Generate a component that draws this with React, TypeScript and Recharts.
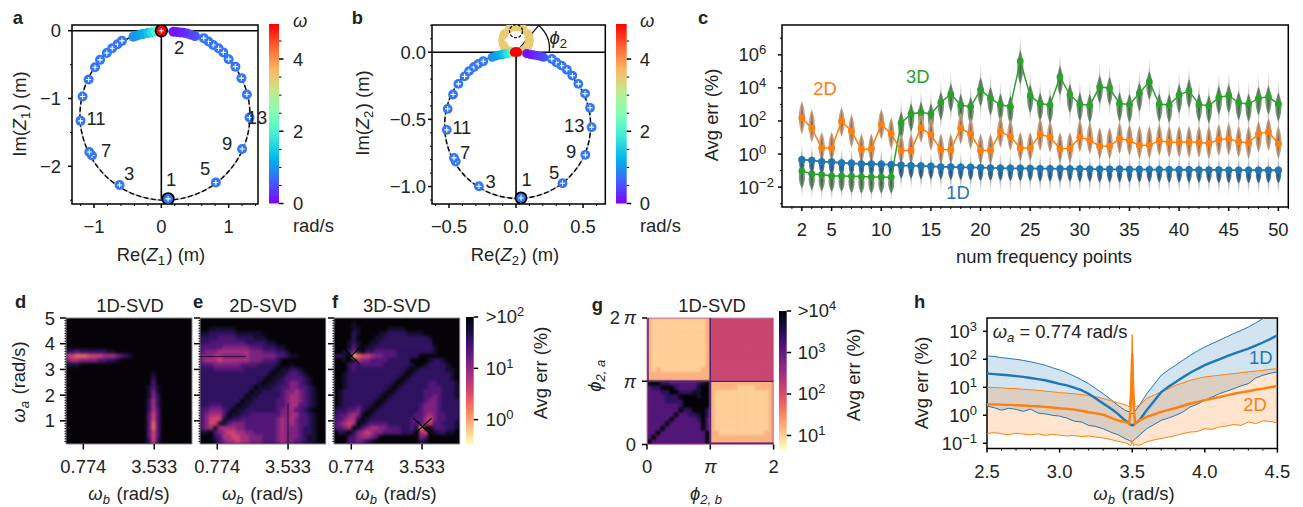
import React from 'react';
import { ComposedChart, XAxis, YAxis, Scatter, Line, Area, Bar, ReferenceLine, ReferenceArea, ReferenceDot } from 'recharts';

const FONT = '"Liberation Sans", Arial, sans-serif';
const INK = '#222';
const FS = 18.4;
const BLUE = '#1f77b4', ORANGE = '#ff7f0e', GREEN = '#2ca02c';

// ---------- panel a / b : [re, im, omega]
const zoneA: number[][] = [
  [0.1, -2.48, 0.77], [0.81, -2.24, 0.77], [1.2, -1.745, 0.77], [1.31, -1.28, 0.77], [1.27, -0.94, 0.77], [1.19, -0.7, 0.77],
  [1.1, -0.53, 0.77], [1.0, -0.42, 0.77], [0.92, -0.32, 0.77], [0.85, -0.26, 0.77], [0.77, -0.21, 0.77], [0.7, -0.16, 0.77], [0.63, -0.11, 0.77],
  [-0.62, -2.275, 0.77], [-1.03, -1.84, 0.77], [-1.07, -1.79, 0.77], [-1.2, -1.33, 0.77], [-1.17, -0.97, 0.77], [-1.08, -0.72, 0.77],
  [-0.985, -0.54, 0.77], [-0.91, -0.43, 0.77], [-0.81, -0.33, 0.77], [-0.73, -0.26, 0.77], [-0.65, -0.2, 0.77], [-0.585, -0.15, 0.77],
];
const trailA: number[][] = [
  [0.5, -0.08, 0.55], [0.44, -0.06, 0.45], [0.38, -0.04, 0.4], [0.33, -0.03, 0.3], [0.28, -0.025, 0.25], [0.23, -0.018, 0.2], [0.18, -0.015, 0.12],
  [-0.415, -0.09, 0.95], [-0.36, -0.07, 1.0], [-0.31, -0.055, 1.1], [-0.27, -0.05, 1.2], [-0.2, -0.035, 1.4], [-0.14, -0.025, 1.7], [-0.08, -0.01, 2.0],
];
const zoneB: number[][] = [
  [0.037, -1.085, 0.77], [0.347, -0.975, 0.77], [0.517, -0.764, 0.77], [0.564, -0.558, 0.77], [0.552, -0.414, 0.77], [0.515, -0.308, 0.77], [0.465, -0.236, 0.77],
  [0.42, -0.174, 0.77], [0.379, -0.13, 0.77], [0.34, -0.1, 0.77], [0.3, -0.075, 0.77], [0.267, -0.05, 0.77],
  [-0.277, -0.998, 0.77], [-0.45, -0.814, 0.77], [-0.463, -0.787, 0.77], [-0.517, -0.578, 0.77], [-0.51, -0.422, 0.77], [-0.47, -0.315, 0.77], [-0.43, -0.236, 0.77],
  [-0.384, -0.18, 0.77], [-0.351, -0.141, 0.77], [-0.314, -0.11, 0.77], [-0.282, -0.087, 0.77], [-0.245, -0.067, 0.77],
];
const trailB: number[][] = [
  [0.205, -0.037, 0.55], [0.18, -0.03, 0.45], [0.156, -0.025, 0.35], [0.13, -0.02, 0.3], [0.106, -0.017, 0.2], [0.08, -0.01, 0.12],
  [-0.178, -0.037, 0.95], [-0.15, -0.028, 1.05], [-0.116, -0.02, 1.2], [-0.09, -0.015, 1.4], [-0.067, -0.012, 1.7], [-0.035, -0.005, 2.1],
];
const ringB: number[][] = [
  [0.1, 0.087, 3.53], [0.094, 0.115, 3.53], [0.087, 0.137, 3.53], [0.05, 0.174, 3.53], [0.0, 0.187, 3.53], [-0.05, 0.174, 3.53], [-0.087, 0.137, 3.53], [-0.094, 0.115, 3.53],
  [-0.1, 0.087, 3.53], [-0.094, 0.06, 3.53], [-0.087, 0.037, 3.53], [-0.05, 0.01, 3.53], [0.05, 0.01, 3.53], [0.087, 0.037, 3.53], [0.094, 0.06, 3.53],
];
const ringPlusB: number[][] = [[-0.07, 0.09, 3.53], [-0.05, 0.11, 3.53], [-0.03, 0.13, 3.53], [0.0, 0.14, 3.53], [0.03, 0.135, 3.53], [0.05, 0.12, 3.53]];
const centreA: number[][] = [[0, 0, 5]];
const centreB: number[][] = [[0.012, 0, 5], [-0.012, 0, 5], [0, 0.005, 5]];

// ---------- panel c (log10 of the error)
const numFreq = [2,3,4,5,6,7,8,9,10,11,12,13,14,15,16,17,18,19,20,21,22,23,24,25,26,27,28,29,30,31,32,33,34,35,36,37,38,39,40,41,42,43,44,45,46,47,48,49,50];
const err2D = [2.18,1.56,.36,.36,1.98,1.38,.28,.32,1.78,1.22,.22,.22,1.58,1.16,.26,.26,1.56,1.22,.22,.22,1.36,1.06,.36,.36,1.2,1.02,.32,.34,1.02,.86,.46,.48,.92,.82,.52,.54,.8,.72,.72,.74,.7,.64,.88,.92,.74,.68,1.22,1.34,.62];
const top2D = [3.4,2.9,1.5,1.5,3.0,2.6,1.4,1.4,2.9,2.4,1.4,1.4,2.7,2.4,1.4,1.4,2.7,2.4,1.4,1.4,2.5,2.3,1.5,1.5,2.4,2.2,1.5,1.5,2.3,2.1,1.8,1.8,2.1,2.0,1.9,1.9,2.0,1.9,1.9,1.9,1.9,1.9,2.0,2.1,1.9,1.9,2.2,2.4,1.9];
const bot2D = [1.0,.5,-.6,-.6,.9,.2,-.7,-.7,.7,.1,-.8,-.8,.5,0,-.8,-.8,.4,.1,-.8,-.8,.2,0,-.6,-.6,0,-.1,-.7,-.7,-.1,-.2,-.5,-.5,-.2,-.3,-.5,-.5,-.3,-.4,-.4,-.4,-.4,-.5,-.3,-.3,-.4,-.5,-.1,0,-.5];
const err3D = [-1.02,-1.2,-1.24,-1.32,-1.32,-1.34,-1.36,-1.38,-1.38,-1.4,1.88,2.42,2.52,2.42,3.12,3.62,2.96,2.86,3.88,3.38,2.98,2.86,5.62,3.52,3.06,2.96,4.66,3.58,3.02,2.94,4.06,3.98,3.06,3.0,3.68,4.38,3.02,2.96,3.56,3.82,3.0,2.92,3.42,3.54,3.1,3.02,3.38,3.46,3.02];
const top3D = [-.1,-.3,-.3,-.4,-.4,-.4,-.5,-.5,-.5,-.5,3.4,3.9,4.0,3.9,4.6,5.1,4.5,4.3,5.5,4.9,4.5,4.4,7.3,5.1,4.6,4.4,6.2,5.1,4.6,4.5,5.6,5.5,4.6,4.5,5.2,5.9,4.5,4.5,5.1,5.4,4.5,4.4,5.0,5.1,4.6,4.5,4.9,5.0,4.6];
const bot3D = [-2.7,-2.8,-2.9,-2.9,-2.9,-3.0,-3.0,-3.0,-3.0,-3.0,0,.5,.6,.5,1.2,1.7,1.0,.9,2.0,1.5,1.1,.9,3.2,1.6,1.1,1.0,2.7,1.6,1.1,1.0,2.2,2.1,1.1,1.0,1.7,2.4,1.1,1.0,1.6,1.9,1.1,1.0,1.5,1.6,1.2,1.1,1.5,1.5,1.1];
const err1D = [-.34,-.38,-.46,-.48,-.54,-.56,-.6,-.6,-.62,-.64,-.68,-.7,-.72,-.74,-.78,-.78,-.8,-.8,-.82,-.84,-.85,-.86,-.86,-.87,-.88,-.88,-.89,-.9,-.9,-.91,-.91,-.92,-.92,-.93,-.93,-.94,-.94,-.94,-.95,-.95,-.96,-.96,-.96,-.97,-.97,-.97,-.98,-.98,-.98];
const top1D = [.7,.65,.6,.55,.5,.5,.45,.45,.45,.4,.35,.35,.3,.3,.25,.25,.25,.2,.2,.2,.2,.2,.15,.15,.15,.15,.15,.15,.1,.1,.1,.1,.1,.1,.1,.1,.1,.05,.05,.05,.05,.05,.05,.05,.05,.05,.05,.05,.05];
const bot1D = [-1.9,-1.95,-2.0,-2.05,-2.1,-2.1,-2.15,-2.15,-2.2,-2.2,-2.25,-2.25,-2.3,-2.3,-2.3,-2.35,-2.35,-2.35,-2.4,-2.4,-2.4,-2.4,-2.4,-2.4,-2.45,-2.45,-2.45,-2.45,-2.45,-2.45,-2.5,-2.5,-2.5,-2.5,-2.5,-2.5,-2.5,-2.5,-2.5,-2.5,-2.5,-2.5,-2.55,-2.55,-2.55,-2.55,-2.55,-2.55,-2.55];
const tableC = numFreq.map((x, i) => ({ x, y: err2D[i], o: err2D[i], g: err3D[i], b: err1D[i], oR: [bot2D[i], top2D[i]], gR: [bot3D[i], top3D[i]], bR: [bot1D[i], top1D[i]] }));
const dotsOf = (vals: number[]) => numFreq.map((x, i) => ({ x, y: vals[i] }));

// ---------- panel h (log10 of the error)
const omegaB = [2.5,2.55,2.6,2.65,2.7,2.75,2.8,2.85,2.9,2.95,3.0,3.05,3.1,3.15,3.2,3.25,3.3,3.35,3.4,3.45,3.48,3.49,3.5,3.51,3.52,3.55,3.6,3.65,3.7,3.75,3.8,3.85,3.9,3.95,4.0,4.05,4.1,4.15,4.2,4.25,4.3,4.35,4.4,4.45,4.5];
const hBlue = [1.49,1.47,1.45,1.43,1.4,1.37,1.33,1.29,1.25,1.19,1.12,1.07,.99,.9,.77,.6,.42,.25,.06,-.18,-.3,-.34,-.36,-.34,-.3,-.18,.18,.5,.83,1.02,1.19,1.36,1.52,1.66,1.79,1.9,2.0,2.1,2.2,2.29,2.38,2.49,2.6,2.72,2.86];
const hBlueUp = [2.12,2.1,2.06,2.03,2.0,1.96,1.91,1.85,1.79,1.7,1.62,1.52,1.4,1.27,1.13,.95,.77,.58,.36,.18,.12,.08,.06,.1,.15,.36,.77,1.1,1.43,1.62,1.79,1.97,2.14,2.3,2.44,2.56,2.68,2.8,2.92,3.03,3.15,3.3,3.45,3.65,3.93];
const hBlueLo = [.33,.27,.18,.25,.21,.14,.22,.08,.05,0,-.03,-.1,-.21,-.24,-.36,-.4,-.48,-.6,-.69,-.83,-.9,-.93,-.95,-.9,-.85,-.71,-.48,-.33,-.18,-.1,0,.12,.3,.4,.54,.65,.77,.86,.95,1.05,1.13,1.33,1.43,1.5,1.55];
const hOrange = [.39,.39,.38,.37,.36,.35,.33,.32,.3,.28,.25,.23,.2,.16,.11,.07,.02,-.08,-.18,-.24,-.3,.3,2.2,.3,-.3,-.18,-.06,.03,.12,.19,.26,.34,.42,.48,.54,.6,.65,.71,.77,.82,.86,.91,.95,1.0,1.05];
const hOrangeUp = [1.0,.99,.98,.96,.95,.93,.91,.89,.86,.84,.81,.79,.77,.74,.71,.66,.6,.53,.45,.38,.3,.9,2.88,.9,.3,.36,.6,.72,.83,.95,1.07,1.16,1.25,1.31,1.37,1.4,1.43,1.46,1.49,1.52,1.55,1.58,1.6,1.64,1.67];
const hOrangeLo = [-.65,-.62,-.66,-.7,-.64,-.67,-.7,-.66,-.72,-.68,-.71,-.74,-.72,-.76,-.74,-.78,-.81,-.86,-.93,-.98,-1.05,-1.08,-.9,-1.1,-1.05,-1.07,-.95,-.88,-.83,-.78,-.72,-.65,-.6,-.58,-.48,-.5,-.42,-.38,-.33,-.36,-.24,-.3,-.2,-.22,-.27];
const tableH = omegaB.map((x, i) => ({ x, y: hBlue[i], b: hBlue[i], bu: hBlueUp[i], bl: hBlueLo[i], o: hOrange[i], ou: hOrangeUp[i], ol: hOrangeLo[i], bR: [hBlueLo[i], hBlueUp[i]], oR: [hOrangeLo[i], hOrangeUp[i]] }));

// ---------- heat maps : one digit per cell, 0 dark .. 9 pale (see RAMP)
const heat1D = [
'0000000000000000000000000000','0000000000000000000000000000','0000000000000000000000000000','0000000000000000000000000000',
'0000000000000000000000000000','0000000000000000000000000000','0000000000000000000000000000',
'2232222221100000000000000000','6677766655543210000000000000','4554444332210000000000000000',
'1110000000000000000000000000','0000000000000000000000000000',
'0000000000000000000100000000','0000000000000000000200000000','0000000000000000000300000000','0000000000000000001310000000',
'0000000000000000001410000000','0000000000000000001420000000','0000000000000000002520000000','0000000000000000002520000000',
'0000000000000000002530000000','0000000000000000003630000000','0000000000000000003630000000','0000000000000000003730000000',
'0000000000000000003730000000','0000000000000000003630000000','0000000000000000003630000000','0000000000000000002620000000',
];
const heat2D = [
'0000000000000000000000000000','0000000000000000000000000000','0011111100000000000000000000','1122222211111100000000000000',
'2222333322221110000000000000','2233333333222221100000000000','3333344444433322211000000000','3444555555544433322100000000',
'4445544444544444433211000000','4555655555544433320000000000','3334444443333222210010000000','2223333333222222101122100000',
'2222222222222221011233210000','2222222222222210112333321000','2222222222222101122344321000','2222222222220111223344332100',
'2222222222201122223445432100','2222222222011222223455432100','2222222220112222233455432100','2233322201122222233455332100',
'3344432011222222234453321000','3455530112233333334455332100','3466611223333333345454332100','3466113444333333345454332100',
'3451555544333333345444322100','1103456655443333345444322100','0002355665544433345444321100','0001345565544433345443321100',
];
const heat3D = [
'0000000000000000000000000000','0000100000000000000000000000','0000110000001111000000000000','0000210000112222111100000000',
'0000200001122222222221000000','0001210011222222222222000000','0001310112222222222222100000','0012410223333322222222100000',
'2210876654433322222000000000','0010154433332222200001221000','0002323333322222210012222100','0002322222222222101222222110',
'0012222222222221012222222210','0012222222222210122222222210','0012222222222101222223322221','0012222222221012222223332221',
'0122222222210122222233332221','0122222222101222222233432221','0122222221012222222234432222','0122232210122222222344432222',
'2223342101222222222344432222','2334541012222222223345433222','3345520122222222233356433222','3456501233332222233356332221',
'3345013455443332231800333221','0210245654433332220560122110','0002345543000000000430000000','0003343210000000000210000000',
];
const heatPhase = [
'89999999999998bbbbbbbbbbbbbb','89999999999998bbbbbbbbbbbbbb','89999999999998bbbbbbbbbbbbbb','89999999999998bbbbbbbbbbbbbb',
'89999999999998bbbbbbbbbbbbbb','89999999999998bbbbbbbbbbbbbb','89999999999998bbbbbbbbbbbbbb','89999999999998bbbbbbbbbbbbbb',
'89999999999998bbbbbbbbbbbbbb','89999999999998bbbbbbbbbbbbbb','89999999999998bbbbbbbbbbbbbb','89899999999988bbbbbbbbbbbbbb',
'88888888888888bbbbbbbbbbbbbb','88888888888888bbbbbbbbbbbbbb',
'0002233333321088888888888888','3220002333310088888899998888','3332200222110089999999999998','3333222000010089999999999998',
'3333222200000089999999999998','3333333200000089999999999998','3333333022000289999999999998','3333330332210289999999999998',
'3333303333320389999999999998','3333033333330389999999999998','3330333333330389999999999998','3303333333333088999999999988',
'3033333333333088888888888888','0333333333333088888888888888',
];
const RAMP: Record<string, string> = { '0': '#050308', '1': '#160e30', '2': '#2f1260', '3': '#521678', '4': '#7c2380', '5': '#a8307e', '6': '#d24470', '7': '#ee6a62', '8': '#fbb280', '9': '#fdd098', a: '#fcfdbf', b: '#c9466f' };

const cellsOf = (rows: string[], lo: number, hi: number) => {
  const n = rows.length, step = (hi - lo) / n, out: any[] = [];
  rows.forEach((row, r) => { for (let c = 0; c < n; c++) out.push({ x: lo + (c + 0.5) * step, y: hi - (r + 0.5) * step, l: row[c] || '0' }); });
  return out;
};

// ---------- axis ticks
type TickDef = [number, any];
const logLabel = (e: string) => ({ b: '10', s: e });
const om = [[0.774, '0.774'], [3.533, '3.533']] as TickDef[];
const tenths = [.2,.3,.4,.5,.6,.7,.8,.9,1.1,1.2,1.3,1.4,1.5,1.6,1.7,1.8,1.9,2.1,2.2,2.3,2.4,2.5,2.6,2.7,2.8,2.9,3.1,3.2,3.3,3.4,3.5,3.6,3.7,3.8,3.9,4.1,4.2,4.3,4.4,4.5,4.6,4.7,4.8,4.9];

const rainbow = (w: number) => {
  const t = Math.min(1, w / 5);
  const ch = (v: number) => Math.round(255 * Math.min(1, Math.max(0, v)));
  return `rgb(${ch(Math.abs(2 * t - 0.5))},${ch(Math.sin(Math.PI * t))},${ch(Math.cos((Math.PI * t) / 2))})`;
};
const asPts = (a: number[][]) => a.map(([x, y, w]) => ({ x, y, w }));

const tickOf = (side: 'x' | 'l' | 'r', defs: Map<number, any>, o: any) => (p: any) => {
  const v = p.payload.value, major = defs.has(v), lab = defs.get(v);
  const len = major ? o.major : o.minor, sw = major ? 1.5 : 1;
  const isSup = lab && typeof lab === 'object' && !React.isValidElement(lab);
  const txt = (x: number, y: number, anchor: string) => lab == null || lab === '' ? null : (
    <text x={x} y={y} textAnchor={anchor} fontFamily={FONT} fontSize={FS} fill={INK}>
      {isSup ? <>{lab.pre || ''}{lab.b}<tspan dy={-7} fontSize={13}>{lab.s}</tspan></> : lab}
    </text>
  );
  if (side === 'x') return <g><line x1={p.x} x2={p.x} y1={p.y} y2={p.y + len} stroke={o.color || '#000'} strokeWidth={sw} />{txt(p.x, p.y + 29, 'middle')}</g>;
  if (side === 'l') return <g><line x1={p.x} x2={p.x - len} y1={p.y} y2={p.y} stroke={o.color || '#000'} strokeWidth={sw} />{o.startAt ? txt(p.x - o.startAt, p.y + 6.5, 'start') : txt(p.x - o.gap, p.y + 6.5, 'end')}</g>;
  return <g><line x1={p.x} x2={p.x + len} y1={p.y} y2={p.y} stroke="#000" strokeWidth={sw} />{txt(p.x + o.gap, p.y + 6.5, 'start')}</g>;
};

const ML = 70, MT = 16, MR = 30, MB = 40, CM = 16;
function Panel({ box, xd, yd, xMajor, xMinor = [], yMajor, yMinor = [], yOpt, xOpt, frame = '#000', frameW = 1.5, data, children }: any) {
  const [l, t, r, b] = box;
  const xs = new Map<number, any>(xMajor), ys = new Map<number, any>(yMajor);
  return (
    <div style={{ position: 'absolute', left: l - ML, top: t - MT }}>
      <ComposedChart width={r - l + ML + MR} height={b - t + MT + MB} data={data} margin={{ top: MT, right: MR, bottom: 0, left: 0 }}>
        <XAxis dataKey="x" type="number" domain={xd} allowDataOverflow ticks={[...xs.keys(), ...xMinor]} interval={0} height={MB} tickSize={0} tickMargin={0} axisLine={false} tickLine={false}
          tick={tickOf('x', xs, { major: 4, minor: 2, ...xOpt })} />
        <YAxis dataKey="y" type="number" domain={yd} allowDataOverflow ticks={[...ys.keys(), ...yMinor]} interval={0} width={ML} tickSize={0} tickMargin={0} axisLine={false} tickLine={false}
          tick={tickOf('l', ys, { major: 4, minor: 2, gap: 11, ...yOpt })} />
        {children}
        <ReferenceArea x1={xd[0]} x2={xd[1]} y1={yd[0]} y2={yd[1]} fill="none" fillOpacity={0} stroke={frame} strokeWidth={frameW} ifOverflow="visible" />
      </ComposedChart>
    </div>
  );
}

// a chart with hidden axes, laid out on the same plot box as a Panel, drawn under it
function Under({ box, yd, data, children, extraAxes }: any) {
  const [l, t, r, b] = box;
  return (
    <div style={{ position: 'absolute', left: l, top: t }}>
      <ComposedChart width={r - l} height={b - t} data={data} margin={{ top: 0, right: 0, bottom: 0, left: 0 }}>
        {extraAxes}
        <YAxis hide dataKey="y" type="number" domain={yd} allowDataOverflow />
        {children}
      </ComposedChart>
    </div>
  );
}

function ColorBar({ box, domain, grad, major, minor = [], gap }: any) {
  const [l, t, r, b] = box;
  const ys = new Map<number, any>(major);
  return (
    <div style={{ position: 'absolute', left: l, top: t - CM }}>
      <ComposedChart width={r - l + 80} height={b - t + 2 * CM} data={[{ x: 0, y: domain[0] }, { x: 1, y: domain[1] }]} margin={{ top: CM, right: 0, bottom: CM, left: 0 }}>
        <XAxis hide dataKey="x" type="number" domain={[0, 1]} />
        <YAxis orientation="right" dataKey="y" type="number" domain={domain} allowDataOverflow ticks={[...ys.keys(), ...minor]} interval={0} width={80} tickSize={0} tickMargin={0} axisLine={false} tickLine={false}
          tick={tickOf('r', ys, { major: 4.5, minor: 2.5, gap })} />
        <ReferenceArea x1={0} x2={1} y1={domain[0]} y2={domain[1]} fill={`url(#${grad})`} fillOpacity={1} stroke="none" ifOverflow="visible" />
      </ComposedChart>
    </div>
  );
}

function Heat({ box, rows, lo, hi, bg, blur }: any) {
  const [l, t, r, b] = box;
  const w = r - l, h = b - t, cw = w / rows.length + 0.6, ch = h / rows.length + 0.6;
  return (
    <div style={{ position: 'absolute', left: l, top: t, width: w, height: h, overflow: 'hidden', background: bg }}>
      <div style={{ filter: `blur(${blur}px)`, width: w, height: h }}>
        <ComposedChart width={w} height={h} margin={{ top: 0, right: 0, bottom: 0, left: 0 }}>
          <XAxis hide dataKey="x" type="number" domain={[lo, hi]} />
          <YAxis hide dataKey="y" type="number" domain={[lo, hi]} />
          <Scatter data={cellsOf(rows, lo, hi)} isAnimationActive={false} shape={(p: any) => <rect x={p.cx - cw / 2} y={p.cy - ch / 2} width={cw} height={ch} fill={RAMP[p.payload.l]} />} />
        </ComposedChart>
      </div>
    </div>
  );
}

const Marker = (ring: boolean, plus: boolean, r: number) => (p: any) => (
  <g>
    <circle cx={p.cx} cy={p.cy} r={r} fill={rainbow(p.payload.w)} stroke={ring ? '#000' : 'none'} strokeWidth={ring ? 1.8 : 0} />
    {plus && <path d={`M${p.cx - 2.6},${p.cy}H${p.cx + 2.6}M${p.cx},${p.cy - 2.6}V${p.cy + 2.6}`} stroke="#fff" strokeWidth={1.1} />}
  </g>
);
const TipOnly = (plus: boolean) => (p: any) => plus ? <path d={`M${p.cx - 2.5},${p.cy}H${p.cx + 2.5}M${p.cx},${p.cy - 2.5}V${p.cy + 2.5}`} stroke="#fff" strokeWidth={1.1} /> : <g />;
const Disc = (fill: string, r: number) => (p: any) => <circle cx={p.cx} cy={p.cy} r={r} fill={fill} />;

const Violin = (fill: string, frac: number, bw: number) => (p: any) => {
  const cx = p.x + p.width / 2, top = Math.min(p.y, p.y + p.height), H = Math.abs(p.height), bot = top + H;
  const a = top + H * frac, c = bot - H * frac, m = (a + c) / 2;
  return (
    <g>
      <path d={`M${cx},${a}C${cx + bw * 1.33},${m - (c - a) * 0.2} ${cx + bw * 1.33},${m + (c - a) * 0.2} ${cx},${c}C${cx - bw * 1.33},${m + (c - a) * 0.2} ${cx - bw * 1.33},${m - (c - a) * 0.2} ${cx},${a}Z`} fill={fill} />
      <path d={`M${cx},${top}Q${cx + 2.2},${m} ${cx},${bot}Q${cx - 2.2},${m} ${cx},${top}Z`} fill="url(#tail)" />
    </g>
  );
};

function T({ x, y, a = 'start', size = FS, color = INK, weight, rot, children }: any) {
  return <text x={x} y={y} textAnchor={a} fontFamily={FONT} fontSize={size} fill={color} fontWeight={weight} transform={rot ? `rotate(${rot} ${x} ${y})` : undefined}>{children}</text>;
}
const Sub = ({ children }: any) => <><tspan dy={4} fontSize={13}>{children}</tspan><tspan dy={-4} fontSize={FS}>{'\u200a'}</tspan></>;
const I = ({ children }: any) => <tspan fontStyle="italic">{children}</tspan>;

const boxA = [72, 24.5, 258, 203.5], boxB = [431.7, 24.5, 605, 203.5], boxC = [781.7, 24.5, 1288, 206.5];
const boxD = [66, 318, 192, 444], boxE = [200, 318, 325.7, 444], boxF = [334.3, 318, 460, 444], boxG = [646.7, 317.5, 773.3, 444], boxH = [987.3, 317.7, 1277.7, 448.3];

const yOmega: TickDef[] = [[5, '5'], [4, '4'], [3, '3'], [2, '2'], [1, '1']];
const yOmegaBare: TickDef[] = [[5, ''], [4, ''], [3, ''], [2, ''], [1, '']];
const cbOmega: TickDef[] = [[0, '0'], [2, '2'], [4, '4']];
const axisC = (id: string) => <XAxis key={id} xAxisId={id} hide dataKey="x" type="number" domain={[0, 51]} allowDataOverflow />;

export default function App() {
  return (
    <div style={{ position: 'absolute', left: 0, top: 0, width: 1303, height: 507, background: '#fff', overflow: 'hidden', fontFamily: FONT }}>
      <svg width={0} height={0} style={{ position: 'absolute' }}>
        <defs>
          <linearGradient id="rainbowBar" x1="0" y1="1" x2="0" y2="0">
            {['#8000ff', '#4062fa', '#00b5eb', '#40ecd4', '#80ffb4', '#c0eb8d', '#ffb462', '#ff6232', '#ff0000'].map((c, i) => <stop key={c} offset={i / 8} stopColor={c} />)}
          </linearGradient>
          <linearGradient id="magmaBar" x1="0" y1="1" x2="0" y2="0">
            {['#fcfdbf', '#fecf92', '#fe9f6d', '#f7705c', '#de4968', '#b73779', '#8c2981', '#641a80', '#3b0f70', '#140e36', '#000004'].map((c, i) => <stop key={c} offset={i / 10} stopColor={c} />)}
          </linearGradient>
          <linearGradient id="tail" x1="0" y1="0" x2="0" y2="1">
            <stop offset="0" stopColor="#555" stopOpacity={0.03} />
            <stop offset="0.5" stopColor="#333" stopOpacity={0.6} />
            <stop offset="1" stopColor="#555" stopOpacity={0.03} />
          </linearGradient>
        </defs>
      </svg>

      {/* a */}
      <Panel box={boxA} xd={[-1.327, 1.436]} yd={[-2.556, 0.084]} data={[]}
        xMajor={[[-1, '\u22121'], [0, '0'], [1, '1']]} xMinor={[-1.2, -.8, -.6, -.4, -.2, .2, .4, .6, .8, 1.2, 1.4]}
        yMajor={[[0, '0'], [-1, '\u22121'], [-2, '\u22122']]} yMinor={[-.5, -1.5, -2.5]}>
        <ReferenceDot x={0.054} y={-1.245} r={85} fill="none" stroke="#bbb" strokeWidth={1.6} ifOverflow="visible" />
        <ReferenceDot x={0.054} y={-1.245} r={85} fill="none" stroke="#000" strokeWidth={1.4} strokeDasharray="5 2.5" ifOverflow="visible" />
        <ReferenceLine y={0} stroke="#000" strokeWidth={1.6} ifOverflow="visible" />
        <ReferenceLine segment={[{ x: 0, y: 0 }, { x: 0, y: -2.48 }]} stroke="#000" strokeWidth={1.6} ifOverflow="visible" />
        <Scatter data={asPts(trailA)} isAnimationActive={false} shape={Marker(false, false, 5)} />
        <Scatter data={asPts(zoneA.slice(1))} isAnimationActive={false} shape={Marker(false, true, 5)} />
        <Scatter data={asPts(zoneA.slice(0, 1))} isAnimationActive={false} shape={Marker(true, true, 5.8)} />
        <Scatter data={asPts(centreA)} isAnimationActive={false} shape={Marker(true, true, 5.8)} />
      </Panel>
      <ColorBar box={[269, 24, 279, 203.5]} domain={[0, 4.97]} grad="rainbowBar" major={cbOmega} minor={[.5, 1, 1.5, 2.5, 3, 3.5, 4.5]} gap={14} />

      {/* b */}
      <Panel box={boxB} xd={[-0.627, 0.666]} yd={[-1.13, 0.2025]} data={[]} yOpt={{ gap: 6 }}
        xMajor={[[-0.5, '\u22120.5'], [0, '0.0'], [0.5, '0.5']]} xMinor={[-.6, -.4, -.3, -.2, -.1, .1, .2, .3, .4, .6]}
        yMajor={[[0, '0.0'], [-0.5, '\u22120.5'], [-1, '\u22121.0']]} yMinor={[.2, .1, -.1, -.2, -.3, -.4, -.6, -.7, -.8, -.9, -1.1]}>
        <ReferenceDot x={0.012} y={-0.545} r={73} fill="none" stroke="#bbb" strokeWidth={1.6} ifOverflow="visible" />
        <ReferenceDot x={0.012} y={-0.545} r={73} fill="none" stroke="#000" strokeWidth={1.4} strokeDasharray="5 2.5" ifOverflow="visible" />
        <ReferenceLine y={0} stroke="#000" strokeWidth={1.6} ifOverflow="visible" />
        <ReferenceLine segment={[{ x: 0, y: 0 }, { x: 0, y: -1.085 }]} stroke="#000" strokeWidth={1.6} ifOverflow="visible" />
        <ReferenceLine segment={[{ x: 0, y: 0 }, { x: 0.17, y: 0.2 }]} stroke="#000" strokeWidth={1.2} ifOverflow="visible" />
        <Scatter data={asPts(ringB)} isAnimationActive={false} shape={Marker(false, false, 4.6)} />
        <Scatter data={asPts(ringPlusB)} isAnimationActive={false} shape={TipOnly(true)} />
        <ReferenceDot x={0} y={0.156} r={6.5} fill="none" stroke="#000" strokeWidth={1.2} strokeDasharray="3 1.5" ifOverflow="visible" />
        <Scatter data={asPts(trailB)} isAnimationActive={false} shape={Marker(false, false, 4.6)} />
        <Scatter data={asPts(zoneB.slice(1))} isAnimationActive={false} shape={Marker(false, true, 4.9)} />
        <Scatter data={asPts(zoneB.slice(0, 1))} isAnimationActive={false} shape={Marker(true, true, 5.6)} />
        <Scatter data={asPts(centreB)} isAnimationActive={false} shape={Marker(false, false, 4.6)} />
      </Panel>
      <ColorBar box={[616, 24, 626.7, 203.5]} domain={[0, 4.97]} grad="rainbowBar" major={cbOmega} minor={[.5, 1, 1.5, 2.5, 3, 3.5, 4.5]} gap={13} />

      {/* c : violins under, lines and axes over */}
      <Under box={boxC} yd={[-3.2, 7.8]} data={tableC} extraAxes={[axisC('g'), axisC('o'), axisC('b')]}>
        <Bar xAxisId="g" dataKey="gR" barSize={6} isAnimationActive={false} shape={Violin('#6f9c72', 0.25, 3.1)} />
        <Bar xAxisId="o" dataKey="oR" barSize={6} isAnimationActive={false} shape={Violin('#cfa17f', 0.08, 3.1)} />
        <Bar xAxisId="b" dataKey="bR" barSize={6} isAnimationActive={false} shape={Violin('#3f78ab', 0.3, 2.7)} />
      </Under>
      <Panel box={boxC} xd={[0, 51]} yd={[-3.2, 7.8]} data={tableC} yOpt={{ startAt: 43.4 }}
        xMajor={[[2, '2'], [5, '5'], [10, '10'], [15, '15'], [20, '20'], [25, '25'], [30, '30'], [35, '35'], [40, '40'], [45, '45'], [50, '50']]}
        xMinor={numFreq.filter(v => ![2, 5, 10, 15, 20, 25, 30, 35, 40, 45, 50].includes(v)).concat([1, 51])}
        yMajor={[[6, logLabel('6')], [4, logLabel('4')], [2, logLabel('2')], [0, logLabel('0')], [-2, logLabel('\u22122')]]} yMinor={[7, 5, 3, 1, -1, -3]}>
        <Line dataKey="g" stroke={GREEN} strokeWidth={1.5} dot={false} isAnimationActive={false} />
        <Line dataKey="o" stroke={ORANGE} strokeWidth={1.5} dot={false} isAnimationActive={false} />
        <Line dataKey="b" stroke={BLUE} strokeWidth={1.8} dot={false} isAnimationActive={false} />
        <Scatter data={dotsOf(err3D)} isAnimationActive={false} shape={Disc(GREEN, 3.4)} />
        <Scatter data={dotsOf(err2D)} isAnimationActive={false} shape={Disc(ORANGE, 3.4)} />
        <Scatter data={dotsOf(err1D)} isAnimationActive={false} shape={Disc(BLUE, 3.7)} />
      </Panel>

      {/* d e f */}
      <Heat box={boxD} rows={heat1D} lo={0.1} hi={5} bg="#050308" blur={1.7} />
      <Heat box={boxE} rows={heat2D} lo={0.1} hi={5} bg="#0a0616" blur={1.8} />
      <Heat box={boxF} rows={heat3D} lo={0.1} hi={5} bg="#0a0616" blur={1.5} />
      <Panel box={boxD} xd={[0.1, 5]} yd={[0.1, 5]} data={[]} frame="#888" frameW={1} xMajor={om} yMajor={yOmega} yMinor={tenths} xOpt={{ major: 5.5 }} yOpt={{ major: 6, minor: 1.5 }} />
      <Panel box={boxE} xd={[0.1, 5]} yd={[0.1, 5]} data={[]} frame="#888" frameW={1} xMajor={om} yMajor={yOmegaBare} yMinor={tenths} xOpt={{ major: 5.5 }} yOpt={{ major: 6, minor: 1.5 }}>
        <ReferenceLine segment={[{ x: 0.1, y: 3.5 }, { x: 1.9, y: 3.5 }]} stroke="#14081e" strokeOpacity={0.75} strokeWidth={1} ifOverflow="visible" />
        <ReferenceLine segment={[{ x: 3.533, y: 0.1 }, { x: 3.533, y: 1.7 }]} stroke="#14081e" strokeOpacity={0.75} strokeWidth={1} ifOverflow="visible" />
      </Panel>
      <Panel box={boxF} xd={[0.1, 5]} yd={[0.1, 5]} data={[]} frame="#888" frameW={1} xMajor={om} yMajor={yOmegaBare} yMinor={tenths} xOpt={{ major: 5.5 }} yOpt={{ major: 6, minor: 1.5 }}>
        <ReferenceLine segment={[{ x: 0.45, y: 3.2 }, { x: 1.1, y: 3.85 }]} stroke="#050308" strokeWidth={1.2} ifOverflow="visible" />
        <ReferenceLine segment={[{ x: 0.45, y: 3.85 }, { x: 1.1, y: 3.2 }]} stroke="#050308" strokeWidth={1.2} ifOverflow="visible" />
        <ReferenceLine segment={[{ x: 3.2, y: 0.45 }, { x: 3.9, y: 1.1 }]} stroke="#050308" strokeWidth={1.2} ifOverflow="visible" />
        <ReferenceLine segment={[{ x: 3.2, y: 1.1 }, { x: 3.9, y: 0.45 }]} stroke="#050308" strokeWidth={1.2} ifOverflow="visible" />
      </Panel>
      <ColorBar box={[466, 317, 473.7, 444.3]} domain={[-0.48, 2]} grad="magmaBar" major={[[2, { pre: '>', b: '10', s: '2' }], [1, logLabel('1')], [0, logLabel('0')]]} gap={12} />

      {/* g */}
      <Heat box={boxG} rows={heatPhase} lo={0} hi={6.2832} bg="#a0406f" blur={1.1} />
      <Panel box={boxG} xd={[0, 6.2832]} yd={[0, 6.2832]} data={[]} frame="#c98ab0" frameW={1} yOpt={{ major: 5 }} xOpt={{ major: 5 }}
        xMajor={[[0, '0'], [3.1416, <tspan fontStyle="italic">{'\u03c0'}</tspan>], [6.2832, '2']]}
        yMajor={[[0, '0'], [3.1416, <tspan fontStyle="italic">{'\u03c0'}</tspan>], [6.2832, <>2<tspan fontStyle="italic">{'\u2009\u03c0'}</tspan></>]]}>
        <ReferenceLine x={3.1416} stroke="#55207a" strokeWidth={1.6} ifOverflow="visible" />
        <ReferenceLine y={3.1416} stroke="#55207a" strokeWidth={1.6} ifOverflow="visible" />
        <ReferenceLine segment={[{ x: 0.05, y: 3.14 }, { x: 0.05, y: 6.28 }]} stroke="#55207a" strokeWidth={1.4} ifOverflow="visible" />
        <ReferenceLine segment={[{ x: 3.14, y: 0.06 }, { x: 6.28, y: 0.06 }]} stroke="#55207a" strokeWidth={1.4} ifOverflow="visible" />
      </Panel>
      <ColorBar box={[779, 310.7, 786.7, 449.3]} domain={[0.66, 4]} grad="magmaBar" major={[[4, { pre: '>', b: '10', s: '4' }], [3, logLabel('3')], [2, logLabel('2')], [1, logLabel('1')]]} gap={11} />

      {/* h */}
      <Panel box={boxH} xd={[2.5, 4.5]} yd={[-1.19, 3.475]} data={tableH} yOpt={{ gap: 10 }}
        xMajor={[[2.5, '2.5'], [3, '3.0'], [3.5, '3.5'], [4, '4.0'], [4.5, '4.5']]} xMinor={[2.6, 2.7, 2.8, 2.9, 3.1, 3.2, 3.3, 3.4, 3.6, 3.7, 3.8, 3.9, 4.1, 4.2, 4.3, 4.4]}
        yMajor={[[3, logLabel('3')], [2, logLabel('2')], [1, logLabel('1')], [0, logLabel('0')], [-1, logLabel('\u22121')]]}>
        <Area dataKey="bR" stroke="none" fill={BLUE} fillOpacity={0.2} isAnimationActive={false} dot={false} activeDot={false} />
        <Area dataKey="oR" stroke="none" fill={ORANGE} fillOpacity={0.2} isAnimationActive={false} dot={false} activeDot={false} />
        <Line dataKey="bu" stroke={BLUE} strokeWidth={1} dot={false} isAnimationActive={false} />
        <Line dataKey="bl" stroke={BLUE} strokeWidth={1} dot={false} isAnimationActive={false} />
        <Line dataKey="ou" stroke={ORANGE} strokeWidth={1} dot={false} isAnimationActive={false} />
        <Line dataKey="ol" stroke={ORANGE} strokeWidth={1} dot={false} isAnimationActive={false} />
        <Line dataKey="b" stroke={BLUE} strokeWidth={2.4} dot={false} isAnimationActive={false} />
        <Line dataKey="o" stroke={ORANGE} strokeWidth={2.4} dot={false} isAnimationActive={false} />
      </Panel>

      {/* text */}
      <svg width={1303} height={507} style={{ position: 'absolute', left: 0, top: 0, pointerEvents: 'none' }}>
        <T x={12.7} y={24} weight="bold">a</T>
        <T x={351.7} y={24} weight="bold">b</T>
        <T x={698} y={24} weight="bold">c</T>
        <T x={15} y={308} weight="bold">d</T>
        <T x={193} y={308} weight="bold">e</T>
        <T x={332} y={308} weight="bold">f</T>
        <T x={591.7} y={311} weight="bold">g</T>
        <T x={914} y={308} weight="bold">h</T>

        <T x={179} y={54} a="middle">2</T><T x={129} y={180} a="middle">3</T><T x={171} y={186} a="middle">1</T><T x={205} y={175} a="middle">5</T>
        <T x={106} y={157} a="middle">7</T><T x={227} y={150} a="middle">9</T><T x={96} y={125} a="middle">11</T><T x={257} y={124} a="middle">13</T>
        <T x={526.7} y={186} a="middle">1</T><T x={490.7} y={188} a="middle">3</T><T x={554} y={179} a="middle">5</T><T x={465} y={159} a="middle">7</T>
        <T x={571} y={158} a="middle">9</T><T x={461.7} y={134} a="middle">11</T><T x={574.3} y={132} a="middle">13</T>

        <T x={161} y={261} a="middle">Re(<I>Z</I><Sub>1</Sub>) (m)</T>
        <T x={26} y={114} a="middle" rot={-90}>Im(<I>Z</I><Sub>1</Sub>) (m)</T>
        <T x={515} y={261} a="middle">Re(<I>Z</I><Sub>2</Sub>) (m)</T>
        <T x={369} y={113} a="middle" rot={-90}>Im(<I>Z</I><Sub>2</Sub>) (m)</T>
        <T x={293} y={27} a="start"><I>ω</I></T><T x={293} y={232} a="start">rad/s</T>
        <T x={640} y={27} a="start"><I>ω</I></T><T x={640} y={232} a="start">rad/s</T>
        <path d="M538.3,25 Q551,36 549.3,51.7" fill="none" stroke="#000" strokeWidth={1.2} />
        <T x={549.5} y={44}><I>ϕ</I><Sub>2</Sub></T>

        <T x={718} y={115} a="middle" rot={-90}>Avg err (%)</T>
        <T x={1044} y={263} a="middle">num frequency points</T>
        <T x={825} y={95} a="middle" color={ORANGE}>2D</T>
        <T x={917.7} y={83} a="middle" color={GREEN}>3D</T>
        <T x={958} y={199} a="middle" color={BLUE}>1D</T>

        <T x={130} y={312} a="middle">1D-SVD</T><T x={263} y={312} a="middle">2D-SVD</T><T x={396.7} y={312} a="middle">3D-SVD</T><T x={712} y={312} a="middle">1D-SVD</T>
        <T x={25} y={382} a="middle" rot={-90}><I>ω</I><Sub><tspan fontStyle="italic">a</tspan></Sub> (rad/s)</T>
        <T x={129} y={500} a="middle"><I>ω</I><Sub><tspan fontStyle="italic">b</tspan></Sub> (rad/s)</T>
        <T x={262.7} y={500} a="middle"><I>ω</I><Sub><tspan fontStyle="italic">b</tspan></Sub> (rad/s)</T>
        <T x={396} y={500} a="middle"><I>ω</I><Sub><tspan fontStyle="italic">b</tspan></Sub> (rad/s)</T>
        <T x={547} y={373} a="middle" rot={-90}>Avg err (%)</T>
        <T x={860} y={375} a="middle" rot={-90}>Avg err (%)</T>
        <T x={601} y={375} a="middle" rot={-90}><I>ϕ</I><Sub><tspan fontStyle="italic">2, a</tspan></Sub></T>
        <T x={706.7} y={500} a="middle"><I>ϕ</I><Sub><tspan fontStyle="italic">2, b</tspan></Sub></T>

        <T x={928} y={383} a="middle" rot={-90}>Avg err (%)</T>
        <T x={1134} y={500} a="middle"><I>ω</I><Sub><tspan fontStyle="italic">b</tspan></Sub> (rad/s)</T>
        <T x={992.7} y={338}><I>ω</I><Sub><tspan fontStyle="italic">a</tspan></Sub>{'\u2009'}= 0.774 rad/s</T>
        <T x={1260.7} y={364} a="middle" color={BLUE}>1D</T>
        <T x={1255} y={411} a="middle" color={ORANGE}>2D</T>
      </svg>
    </div>
  );
}
